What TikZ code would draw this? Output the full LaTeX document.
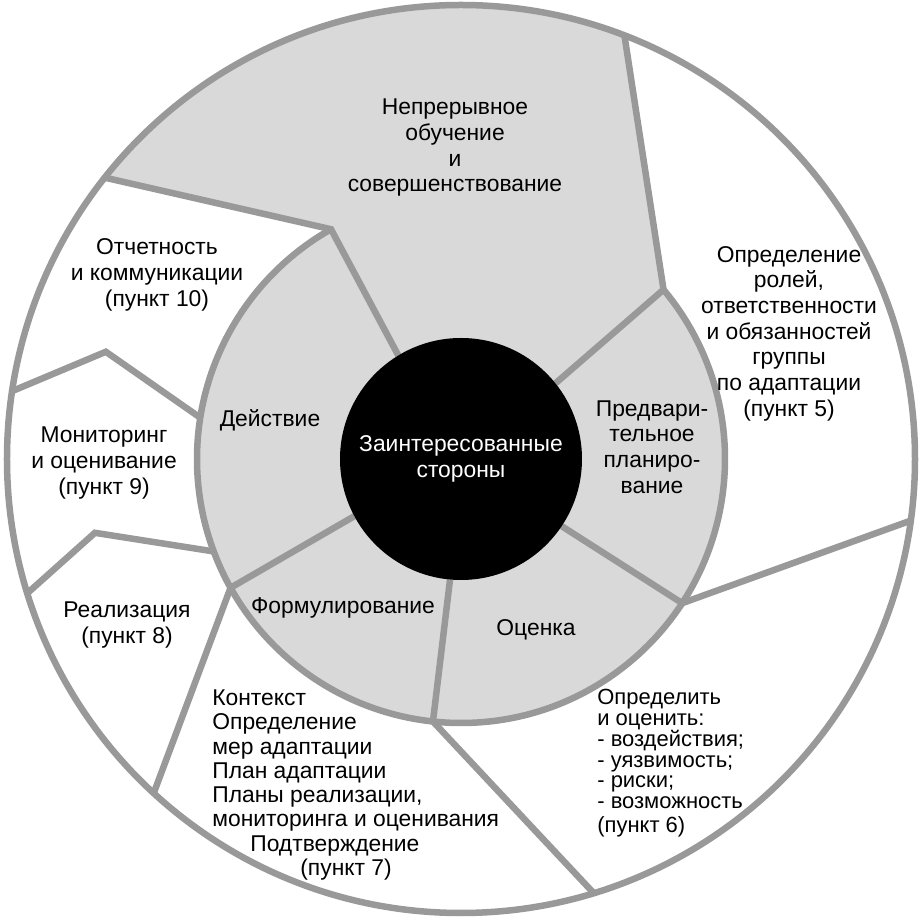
\documentclass[tikz,border=0pt]{standalone}
\usepackage{fontspec}
\setmainfont{Liberation Sans}
\definecolor{ringgray}{HTML}{999999}
\definecolor{fillgray}{HTML}{D9D9D9}
\begin{document}
    \begin{tikzpicture}[sep/.style={draw=ringgray,line width=0.13cm},
        txt/.style={align=center,inner sep=0pt,font=\fontsize{13}{14.6}\selectfont}]
        \fill[white] (-9.22,-9.22) rectangle (9.2,9.18);
        \useasboundingbox (-9.22,-9.22) rectangle (9.2,9.18);
        \fill[fillgray] (0,0) circle (5.28);
        \fill[fillgray] (141.7:9.08) arc[start angle=141.7,end angle=68.9,radius=9.08] -- (39.9:5.28) -- (38.7:2.42) arc[start angle=38.7,end angle=121.2,radius=2.42] -- (119.5:5.28) -- cycle;
        \draw[sep] (0,0) circle (9.08);
        \draw[sep] (39.9:5.28) arc[start angle=39.9,end angle=-240.5,radius=5.28];
        \draw[sep] (141.7:9.08) -- (119.5:5.28) -- (121.2:2.42);
        \draw[sep] (68.9:9.08) -- (39.9:5.28) -- (38.7:2.42);
        \draw[sep] (-7.8:9.08) -- (-33.1:5.28) -- (-33.7:2.42);
        \draw[sep] (-73:9.08) -- (-96.1:5.28) -- (-95.2:2.42);
        \draw[sep] (227.4:9.08) -- (209.2:5.28) -- (208.2:2.42);
        \draw[sep] (197.2:9.08) -- (191.4:7.47) -- (200.5:5.28);
        \draw[sep] (171.4:9.08) -- (163.2:7.42) -- (171:5.28);
        \fill[black] (0,0) circle (2.42);
        \node[txt,text=white] (stake) at (0,0) {Заинтересованные\\стороны};
        \node[txt] (learn) at (-0.12,6.22) {Непрерывное\\обучение\\и\\совершенствование};
        \node[txt] (report) at (-6.08,3.68) {Отчетность\\и коммуникации\\(пункт 10)};
        \node[txt] (monitor) at (-7.14,-0.08) {Мониторинг\\и оценивание\\(пункт 9)};
        \node[txt] (impl) at (-6.68,-3.32) {Реализация\\(пункт 8)};
        \node[txt,align=left,anchor=west,font=\fontsize{13}{13.8}\selectfont] (context) at (-4.98,-6.52) {Контекст\\Определение\\мер адаптации\\План адаптации\\Планы реализации,\\мониторинга и оценивания\\\hspace*{0.76cm}Подтверждение\\\hspace*{1.76cm}(пункт 7)};
        \node[txt,align=left,anchor=west,font=\fontsize{12.5}{11.8}\selectfont] (assess) at (2.72,-6.09) {Определить\\и оценить:\\- воздействия;\\- уязвимость;\\- риски;\\- возможность\\[2pt](пункт 6)};
        \node[txt] (roles) at (6.56,2.51) {Определение\\ролей,\\ответственности\\и обязанностей\\группы\\по адаптации\\(пункт 5)};
        \node[txt] (prelim) at (3.82,0.24) {Предвари-\\тельное\\планиро-\\вание};
        \node[txt] (action) at (-3.82,0.78) {Действие};
        \node[txt] (formul) at (-2.36,-2.98) {Формулирование};
        \node[txt] (evaluate) at (1.5,-3.42) {Оценка};
    \end{tikzpicture}
\end{document}
